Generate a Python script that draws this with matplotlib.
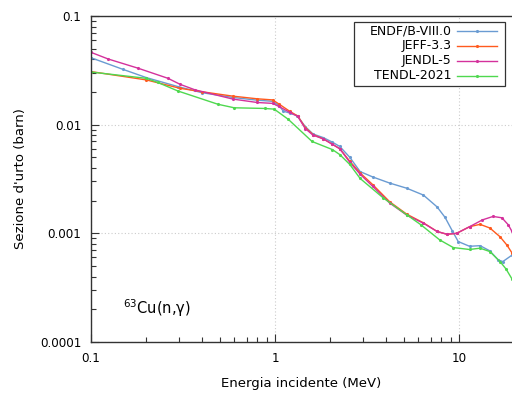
import matplotlib
matplotlib.use("Agg")
import matplotlib.pyplot as plt
from matplotlib.lines import Line2D
from matplotlib.patches import Rectangle
from matplotlib.ticker import LogLocator, FixedLocator, FixedFormatter, NullFormatter

# Dati (energia in MeV, sezione d'urto in barn)
e_endf = [0.1, 0.149, 0.2, 0.297, 0.4, 0.59, 0.8, 0.97, 1.05, 1.11, 1.2, 1.32, 1.46, 1.61,
          1.83, 2.05, 2.25, 2.55, 2.9, 3.4, 4.2, 5.2, 6.4, 7.6, 8.4, 9.2, 9.9, 11.4, 13.0,
          14.7, 16.3, 17.3, 19.4]
xs_endf = [0.0413, 0.0323, 0.0271, 0.0224, 0.0197, 0.0178, 0.0168, 0.0164, 0.0150, 0.0133,
           0.0128, 0.0121, 0.0096, 0.0082, 0.0076, 0.0069, 0.0063, 0.0050, 0.0037, 0.0033,
           0.0029, 0.0026, 0.00225, 0.00175, 0.0014, 0.00105, 0.00084, 0.00076, 0.00077,
           0.00069, 0.00057, 0.00055, 0.00063]

e_jeff = [0.1, 0.2, 0.305, 0.4, 0.59, 0.8, 0.97, 1.05, 1.2, 1.33, 1.46, 1.61, 1.83, 2.05,
          2.25, 2.55, 2.9, 3.4, 4.2, 5.2, 6.4, 7.6, 8.6, 9.7, 11.4, 13.0, 14.7, 16.7, 18.2, 19.4]
xs_jeff = [0.0308, 0.0258, 0.0216, 0.0201, 0.0183, 0.0173, 0.0169, 0.0155, 0.0133, 0.0120,
           0.0094, 0.0081, 0.0074, 0.0066, 0.0060, 0.0046, 0.0036, 0.0028, 0.00195, 0.00150,
           0.00125, 0.00104, 0.00098, 0.00100, 0.00115, 0.00121, 0.00112, 0.00093, 0.00078,
           0.00066]

e_jendl = [0.1, 0.124, 0.18, 0.262, 0.305, 0.368, 0.59, 0.8, 0.97, 1.05, 1.2, 1.33, 1.46,
           1.61, 1.83, 2.05, 2.25, 2.55, 2.9, 3.4, 4.2, 5.2, 6.4, 7.6, 8.6, 9.7, 11.4, 13.4,
           15.3, 17.1, 18.5, 19.4]
xs_jendl = [0.0463, 0.0402, 0.0331, 0.0267, 0.0235, 0.0209, 0.0172, 0.0160, 0.0157, 0.0147,
            0.0130, 0.0119, 0.0092, 0.0080, 0.0074, 0.0066, 0.0060, 0.0045, 0.0035, 0.0027,
            0.0019, 0.00147, 0.00124, 0.00104, 0.00098, 0.00100, 0.00115, 0.00133, 0.00143,
            0.00139, 0.00120, 0.00104]

e_tendl = [0.1, 0.2, 0.23, 0.297, 0.49, 0.6, 0.88, 0.99, 1.18, 1.59, 2.05, 2.25, 2.55, 2.9,
           3.87, 5.2, 6.2, 7.85, 9.3, 11.4, 13.0, 14.7, 16.7, 18.0, 19.4]
xs_tendl = [0.0305, 0.0267, 0.0245, 0.0204, 0.0154, 0.0143, 0.0141, 0.0139, 0.0112, 0.0070,
            0.0059, 0.0053, 0.0043, 0.0032, 0.00212, 0.00148, 0.00120, 0.00087, 0.00074,
            0.00071, 0.00073, 0.00068, 0.00055, 0.00047, 0.00038]

labels = ["ENDF/B-VIII.0", "JEFF-3.3", "JENDL-5", "TENDL-2021"]
colors = ["#6a9bd2", "#ff5a1e", "#d4319c", "#4fd84f"]

x_ticks = [0.1, 1, 10]
x_tick_labels = ["0.1", "1", "10"]
y_ticks = [0.0001, 0.001, 0.01, 0.1]
y_tick_labels = ["0.0001", "0.001", "0.01", "0.1"]

fig = plt.figure(figsize=(5.12, 4.0), dpi=100)
ax = fig.add_axes([91 / 512, 1 - 342 / 400, 421 / 512, 326 / 400])

series = [(e_endf, xs_endf), (e_jeff, xs_jeff), (e_jendl, xs_jendl), (e_tendl, xs_tendl)]
for (e, xs), c in zip(series, colors):
    ax.plot(e, xs, color=c, lw=1.0, marker=".", ms=2.5)

ax.set_xscale("log")
ax.set_yscale("log")
ax.set_xlim(0.1, 19.4)
ax.set_ylim(0.0001, 0.1)

ax.xaxis.set_major_locator(FixedLocator(x_ticks))
ax.xaxis.set_major_formatter(FixedFormatter(x_tick_labels))
ax.yaxis.set_major_locator(FixedLocator(y_ticks))
ax.yaxis.set_major_formatter(FixedFormatter(y_tick_labels))
ax.xaxis.set_minor_locator(LogLocator(base=10, subs=range(2, 10)))
ax.yaxis.set_minor_locator(LogLocator(base=10, subs=range(2, 10)))
ax.xaxis.set_minor_formatter(NullFormatter())
ax.yaxis.set_minor_formatter(NullFormatter())

ax.tick_params(which="both", direction="in", top=False, right=False, colors="#333333",
               labelcolor="black", labelsize=8.6)
ax.tick_params(which="major", length=6, width=0.8, pad=7)
ax.tick_params(which="minor", length=3.5, width=0.8)

ax.grid(True, which="major", color="#cccccc", linestyle=(0, (1, 2)), lw=0.8)
for s in ["left", "bottom", "top"]:
    ax.spines[s].set_color("#333333")
    ax.spines[s].set_linewidth(1.0)
ax.spines["right"].set_visible(False)

ax.set_xlabel("Energia incidente (MeV)", fontsize=9.5, labelpad=9)
ax.set_ylabel("Sezione d'urto (barn)", fontsize=9.5, labelpad=9)

ax.text(0.076, 0.104, "$^{63}$Cu(n,γ)", transform=ax.transAxes, fontsize=10.5,
        ha="left", va="center")

# Legenda in stile gnuplot (testo allineato a destra)
ax.add_patch(Rectangle((0.625, 0.785), 0.358, 0.197, transform=ax.transAxes,
                       facecolor="white", edgecolor="#333333", lw=0.9, zorder=5))
entry_y = [0.954, 0.908, 0.862, 0.816]
for lab, c, yy in zip(labels, colors, entry_y):
    ax.text(0.857, yy, lab, transform=ax.transAxes, ha="right", va="center",
            fontsize=9, zorder=6)
    ax.add_line(Line2D([0.869, 0.964], [yy, yy], transform=ax.transAxes, color=c,
                       lw=1.0, zorder=6))
    ax.add_line(Line2D([0.9165], [yy], transform=ax.transAxes, color=c, marker=".",
                       ms=2.5, zorder=6))

fig.savefig("out.png", dpi=100)
